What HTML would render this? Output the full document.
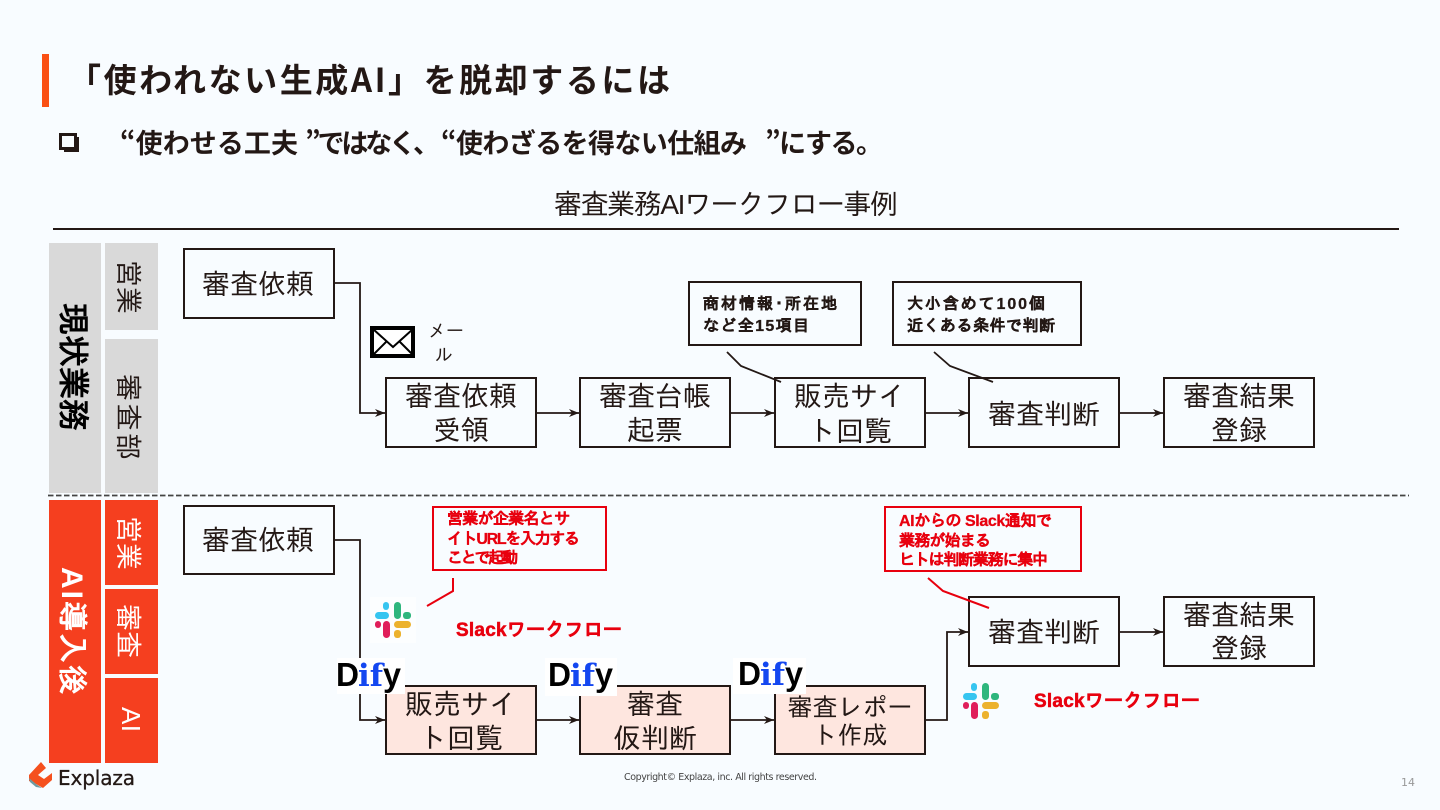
<!DOCTYPE html>
<html lang="ja"><head><meta charset="utf-8"><title>審査業務AIワークフロー事例</title>
<style>
html,body{margin:0;padding:0;background:#f8fcff;width:1440px;height:810px;overflow:hidden}
svg{display:block}
text{font-family:"Liberation Sans","IPAGothic",sans-serif;fill:#231815}
.j{font-family:"Noto Sans CJK JP",sans-serif}
.g{font-family:"Liberation Sans","IPAGothic","Noto Sans CJK JP",sans-serif}
.b{font-weight:700}
.box{fill:none;stroke:#231815;stroke-width:2}
.pk{fill:#fee6df;stroke:#231815;stroke-width:2}
.ln{fill:none;stroke:#231815;stroke-width:1.800}
.t{font-family:"Liberation Sans","IPAGothic","Noto Sans CJK JP",sans-serif;font-size:28px;text-anchor:middle}
.c{font-family:"Liberation Sans","IPAGothic","Noto Sans CJK JP",sans-serif;font-size:16px;font-weight:700;stroke:#231815;stroke-width:.3}
.r{fill:#e8000e}
.c.r{stroke:#e8000e}
.sl{stroke:#e8000e;stroke-width:.5}
.rb{fill:none;stroke:#e8000e;stroke-width:2}
.w{fill:#fff}
.d{font-family:"Liberation Sans",sans-serif;font-weight:700;font-size:33px;fill:#000}
.d2{font-family:"DejaVu Serif",serif;font-weight:700;font-size:31px;fill:#1447f0}
</style></head><body>
<svg width="1440" height="810" viewBox="0 0 1440 810" xmlns="http://www.w3.org/2000/svg">
<defs><marker id="a" markerWidth="12" markerHeight="10" refX="10" refY="4" orient="auto" markerUnits="userSpaceOnUse"><path d="M0 0L10 4L0 8L3 4Z" fill="#231815"/></marker></defs>
<rect x="42" y="54" width="7" height="53" fill="#fa5014"/>
<text class="j b" x="68" y="92" font-size="33" textLength="602">「使われない生成AI」を脱却するには</text>
<rect x="60.500" y="134.500" width="15" height="14" fill="none" stroke="#231815" stroke-width="3"/><path d="M78 137V151H64" fill="none" stroke="#231815" stroke-width="2"/>
<text class="j b" x="120" y="153" font-size="27" textLength="178">“使わせる工夫</text>
<text class="j b" x="305" y="153" font-size="27" textLength="135">”ではなく、</text>
<text class="j b" x="441" y="153" font-size="27" textLength="306">“使わざるを得ない仕組み</text>
<text class="j b" x="765" y="153" font-size="27" textLength="118">”にする。</text>
<text class="g" x="554" y="214" font-size="28" textLength="344">審査業務AIワークフロー事例</text>
<path d="M53 229H1399" stroke="#231815" stroke-width="2"/>

<rect x="49" y="243" width="52" height="250" fill="#d9d9d9"/>
<rect x="105" y="243" width="53" height="87" fill="#d9d9d9"/>
<rect x="105" y="339" width="53" height="154" fill="#d9d9d9"/>
<rect x="49" y="500" width="52" height="263" fill="#f53f1f"/>
<rect x="105" y="500" width="53" height="85" fill="#f53f1f"/>
<rect x="105" y="589" width="53" height="85" fill="#f53f1f"/>
<rect x="105" y="678" width="53" height="85" fill="#f53f1f"/>
<path d="M48 495.500H1409" stroke="#444" stroke-width="1.800" stroke-dasharray="5.500 2.500"/>

<text class="g b" transform="translate(62 303) rotate(90)" font-size="32" textLength="128" style="fill:#000">現状業務</text>
<text class="g" transform="translate(119 260) rotate(90)" font-size="27" textLength="54">営業</text>
<text class="g" transform="translate(119 374) rotate(90)" font-size="27" textLength="86">審査部</text>
<text class="g b w" transform="translate(62 567) rotate(90)" font-size="30" textLength="128">AI導入後</text>
<text class="g w" transform="translate(119 516) rotate(90)" font-size="27" textLength="54">営業</text>
<text class="g w" transform="translate(119 604) rotate(90)" font-size="27" textLength="54">審査</text>
<text class="g w" transform="translate(122 707) rotate(90)" font-size="26" textLength="25">AI</text>

<rect class="box" x="184" y="249" width="150" height="69"/>
<text class="t" x="258" y="294">審査依頼</text>
<path class="ln" d="M334 283H360V413H385" marker-end="url(#a)"/>
<rect x="372" y="328" width="41" height="28" fill="#fff" stroke="#000" stroke-width="4"/>
<path d="M373 329L393 347L413 329M373 355L386 342M413 355L400 342" fill="none" stroke="#000" stroke-width="2"/>
<text class="g" x="428" y="337" font-size="18">メー</text>
<text class="g" x="435" y="361" font-size="18">ル</text>

<path class="ln" d="M536 413H579" marker-end="url(#a)"/>
<path class="ln" d="M730 413H774" marker-end="url(#a)"/>
<path class="ln" d="M925 413H968" marker-end="url(#a)"/>
<path class="ln" d="M1119 413H1163" marker-end="url(#a)"/>
<rect class="box" x="386" y="378" width="150" height="69"/>
<text class="t" x="461" y="406">審査依頼</text><text class="t" x="461" y="440">受領</text>
<rect class="box" x="580" y="378" width="150" height="69"/>
<text class="t" x="655" y="406">審査台帳</text><text class="t" x="655" y="440">起票</text>
<rect class="box" x="775" y="378" width="150" height="69"/>
<text class="t" x="850" y="406">販売サイ</text><text class="t" x="850" y="441">ト回覧</text>
<rect class="box" x="969" y="378" width="150" height="69"/>
<text class="t" x="1044" y="424">審査判断</text>
<rect class="box" x="1164" y="378" width="150" height="69"/>
<text class="t" x="1239" y="406">審査結果</text><text class="t" x="1239" y="440">登録</text>

<rect class="box" x="689" y="282" width="172" height="63"/>
<text class="c" x="703" y="309" textLength="134">商材情報･所在地</text><text class="c" x="703" y="331" textLength="106">など全15項目</text>
<rect class="box" x="893" y="282" width="188" height="63"/>
<text class="c" x="907" y="309" textLength="138">大小含めて100個</text><text class="c" x="907" y="331" textLength="148">近くある条件で判断</text>
<path class="ln" d="M727 352L741 366L781 382"/>
<path class="ln" d="M934 352L950 366L993 382"/>

<rect class="box" x="184" y="506" width="150" height="68"/>
<text class="t" x="258" y="550">審査依頼</text>
<path class="ln" d="M334 540H360V720H385" marker-end="url(#a)"/>
<rect class="rb" x="433" y="507" width="173" height="63"/>
<text class="c r" x="447" y="524" textLength="123">営業が企業名とサ</text><text class="c r" x="447" y="544" textLength="133">イトURLを入力する</text><text class="c r" x="447" y="563" textLength="71">ことで起動</text>
<path class="rb" d="M453 578V591L427 606"/>
<text class="b r sl" x="456" y="636" font-size="19" textLength="166">Slackワークフロー</text>

<rect x="370" y="597" width="46" height="46" fill="#fff" opacity=".6"/>
<g id="s">
<rect x="375" y="612" width="14" height="7" rx="3.500" fill="#36c5f0"/><rect x="383" y="602" width="6" height="8" rx="3" fill="#36c5f0"/>
<rect x="394" y="602" width="7" height="17" rx="3.500" fill="#2eb67d"/><rect x="403" y="612" width="8" height="7" rx="3" fill="#2eb67d"/>
<rect x="394" y="621" width="17" height="7" rx="3.500" fill="#ecb22e"/><rect x="394" y="630" width="7" height="8" rx="3" fill="#ecb22e"/>
<rect x="383" y="621" width="7" height="17" rx="3.500" fill="#e01e5a"/><rect x="375" y="621" width="6" height="7" rx="3" fill="#e01e5a"/>
</g>

<path class="ln" d="M536 720H579" marker-end="url(#a)"/>
<path class="ln" d="M730 720H774" marker-end="url(#a)"/>
<path class="ln" d="M925 720H947V632H968" marker-end="url(#a)"/>
<path class="ln" d="M1119 632H1163" marker-end="url(#a)"/>
<rect class="pk" x="386" y="686" width="150" height="68"/>
<text class="t" x="461" y="714">販売サイ</text><text class="t" x="461" y="748">ト回覧</text>
<rect class="pk" x="580" y="686" width="150" height="68"/>
<text class="t" x="655" y="714">審査</text><text class="t" x="655" y="748">仮判断</text>
<rect class="pk" x="775" y="686" width="150" height="68"/>
<text class="t" x="850" y="716" style="font-size:25px">審査レポー</text><text class="t" x="850" y="744" style="font-size:25px">ト作成</text>
<rect class="box" x="969" y="597" width="150" height="69"/>
<text class="t" x="1044" y="642">審査判断</text>
<rect class="box" x="1164" y="597" width="150" height="69"/>
<text class="t" x="1239" y="625">審査結果</text><text class="t" x="1239" y="658">登録</text>

<rect class="rb" x="885" y="507" width="196" height="64"/>
<text class="c r" x="899" y="526" textLength="153">AIからの Slack通知で</text><text class="c r" x="899" y="546" textLength="92">業務が始まる</text><text class="c r" x="899" y="565" textLength="149">ヒトは判断業務に集中</text>
<path class="rb" d="M928 578L943 591L989 608"/>
<text class="b r sl" x="1034" y="707" font-size="19" textLength="166">Slackワークフロー</text>
<use href="#s" x="588" y="81"/>

<rect x="337" y="658" width="68" height="36" fill="#fff"/>
<text class="d" x="336" y="686" textLength="23" lengthAdjust="spacingAndGlyphs">D</text><text class="d2" x="358" y="686" textLength="25" lengthAdjust="spacingAndGlyphs">if</text><text class="d" x="383" y="686" textLength="18" lengthAdjust="spacingAndGlyphs">y</text>
<rect x="545" y="658" width="72" height="38" fill="#fff"/>
<text class="d" x="548" y="686" textLength="23" lengthAdjust="spacingAndGlyphs">D</text><text class="d2" x="570" y="686" textLength="25" lengthAdjust="spacingAndGlyphs">if</text><text class="d" x="595" y="686" textLength="18" lengthAdjust="spacingAndGlyphs">y</text>
<rect x="733" y="658" width="73" height="36" fill="#fff"/>
<text class="d" x="738" y="685" textLength="23" lengthAdjust="spacingAndGlyphs">D</text><text class="d2" x="760" y="685" textLength="25" lengthAdjust="spacingAndGlyphs">if</text><text class="d" x="785" y="685" textLength="18" lengthAdjust="spacingAndGlyphs">y</text>

<path d="M29 775L41 762L46 768L38 775L44 779L52 773V780L43 788L36 784L29 781Z" fill="#f5501e"/>
<path d="M29 778L36 784L42 788L36 787L30 782Z" fill="#6f9aa0"/>
<text x="58" y="785" font-size="20" textLength="77" style="font-family:'DejaVu Sans',sans-serif;stroke:#231815;stroke-width:.3">Explaza</text>
<text x="624" y="780" font-size="9.500" textLength="193" style="font-family:'DejaVu Sans',sans-serif;fill:#444">Copyright© Explaza, inc. All rights reserved.</text>
<text x="1401" y="786" font-size="11" style="font-family:'DejaVu Sans',sans-serif;fill:#999">14</text>
</svg>
</body></html>
